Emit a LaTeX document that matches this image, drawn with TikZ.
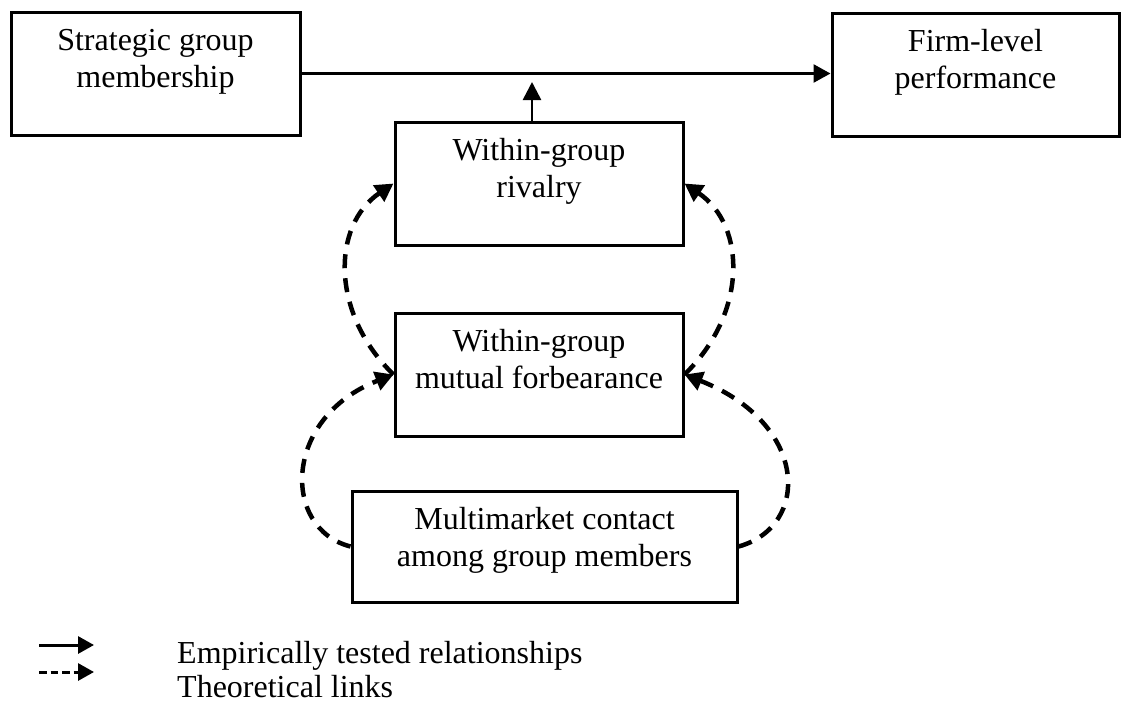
\documentclass[tikz,border=0pt]{standalone}
\usepackage{fontspec}
\setmainfont{Liberation Serif}
\usetikzlibrary{arrows.meta}
% two centred lines; a tall first strut and a deep last strut fix where the text sits in the box
\newcommand\boxtext[3]{\rule{0pt}{24pt}#1\\#2\rule[-#3pt]{0pt}{#3pt}}
\begin{document}
\begin{tikzpicture}[x=1pt,y=-1pt,
  box/.style={draw, line width=3pt, rectangle, inner sep=0pt, align=center,
    font=\fontsize{32pt}{37pt}\selectfont},
  tested/.style={line width=2.6pt, -{Triangle[length=17pt,width=18pt]}},
  theory/.style={line width=4.5pt, dash pattern=on 14pt off 10pt,
    -{Triangle[length=18pt,width=19pt]}},
  legsolid/.style={line width=3pt, -{Triangle[length=16pt,width=17pt]}},
  legdash/.style={line width=3pt, dash pattern=on 7.5pt off 4pt,
    -{Triangle[length=16pt,width=17pt]}},
  legtext/.style={inner sep=0pt, font=\fontsize{32pt}{37pt}\selectfont}]
\fill[white] (0,0) rectangle (1121,705);
\useasboundingbox (0,0) rectangle (1121,705);

% boxes
\node[box, minimum width=289pt, minimum height=123pt] (strat) at (155.5,73.5)
  {\boxtext{Strategic group}{membership}{34}};
\node[box, minimum width=287pt, minimum height=123pt] (firm) at (975.5,74.5)
  {\boxtext{Firm-level}{performance}{34}};
\node[box, minimum width=288pt, minimum height=123pt] (rival) at (539,183.5)
  {\boxtext{Within-group}{rivalry}{34}};
\node[box, minimum width=288pt, minimum height=123pt] (forb) at (539,374.5)
  {\boxtext{Within-group}{mutual forbearance}{34}};
\node[box, minimum width=385pt, minimum height=111pt] (multi) at (544.5,546.5)
  {\boxtext{Multimarket contact}{among group members}{22}};

% empirically tested links
\draw[tested] (strat.east) -- (strat.east -| firm.west);
\coordinate (uptip) at (532,82);
\draw[tested, -{Triangle[length=18pt,width=18pt]}] (uptip |- rival.north) -- (uptip);

% theoretical links
\draw[theory] (forb.west) .. controls (331,314) and (331,226) .. (rival.west);
\draw[theory] (forb.east) .. controls (747,314) and (747,226) .. (rival.east);
\draw[theory] (multi.west) .. controls (282,529) and (282,418) .. (forb.west);
\draw[theory] (multi.east) .. controls (810,527) and (810,424) .. (forb.east);

% legend
\coordinate (ls0) at (39,645); \coordinate (ls1) at (94,645);
\coordinate (ld0) at (39,672); \coordinate (ld1) at (94,672);
\draw[legsolid] (ls0) -- (ls1);
\draw[legdash] (ld0) -- (ld1);
\node[legtext, anchor=base west] (lt1) at (177,663) {Empirically tested relationships};
\node[legtext, anchor=base west] (lt2) at (177,697) {Theoretical links};
\end{tikzpicture}
\end{document}
